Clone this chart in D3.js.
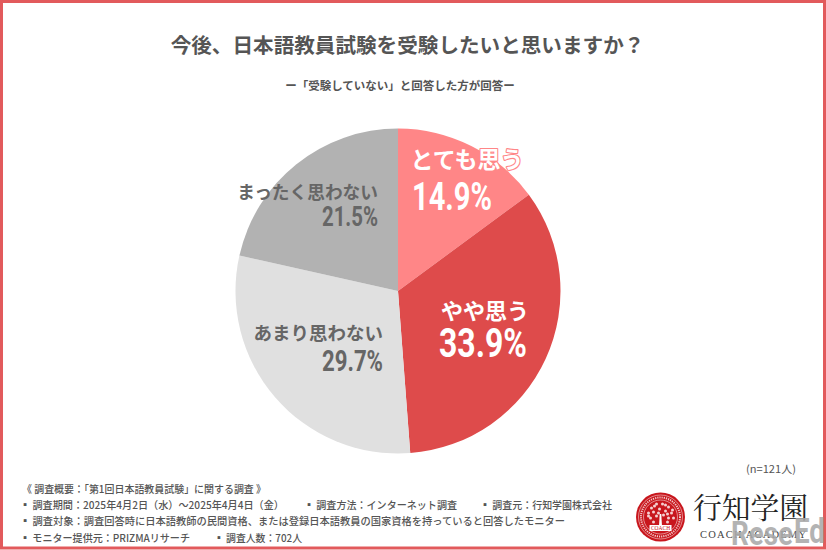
<!DOCTYPE html>
<html><head><meta charset="utf-8">
<script src="https://cdn.jsdelivr.net/npm/d3@7"></script>
<style>html,body{margin:0;padding:0;background:#fff}svg{display:block}text{font-family:"Noto Sans CJK JP",sans-serif}</style>
</head><body><svg id="c" width="826" height="550"></svg>
<script>
const categories=["とても思う","やや思う","あまり思わない","まったく思わない"];
const values=[14.9,33.9,29.7,21.5];
const colors=["#ff8687","#de4b4b","#e0e0e0","#b2b2b2"];
const labelColors=["#fff","#fff","#666","#666"];
const labelX=[467,485,383,378];
const labelY=[168,319,340,199];
const labelSize=[23,22,18.5,17.7];
const anchors=["middle","middle","end","end"];
const pctX=[412,439,322,322];
const pctY=[210,357,371,226];
const pctW=[80,88,61,56];
const pctSize=[38,41,29,28];
const footLines=[
 ["《 調査概要：「第1回日本語教員試験」に関する調査 》",22,493],
 ["▪ 調査期間：2025年4月2日（水）～2025年4月4日（金）",20,509],
 ["▪ 調査方法：インターネット調査",304,509],
 ["▪ 調査元：行知学園株式会社",480,509],
 ["▪ 調査対象：調査回答時に日本語教師の民間資格、または登録日本語教員の国家資格を持っていると回答したモニター",20,525],
 ["▪ モニター提供元：PRIZMAリサーチ",20,542],
 ["▪ 調査人数：702人",214,542]];
const footW=[244,264,153,132,545,170,88];
const treeDots=[[-9,-9],[-4,-13],[2,-13],[8,-10],[-12,-4],[-7,-5],[-1,-8],[5,-6],[11,-4],[-10,1],[-4,-1],[3,-2],[8,1],[13,1],[-7,5],[7,5],[-6,-11],[5,-12],[-2,-4],[7,-3],[-12,-1],[12,-7]];
const svg=d3.select("#c");
svg.append("rect").attr("x",1.5).attr("y",1.5).attr("width",823).attr("height",546.5).attr("fill","#fff").attr("stroke","#e25a5c").attr("stroke-width",3);
svg.append("text").attr("x",407.5).attr("y",53).attr("text-anchor","middle").attr("font-size",20.6).attr("font-weight",700).attr("fill","#555").text("今後、日本語教員試験を受験したいと思いますか？");
svg.append("text").attr("x",400).attr("y",90).attr("text-anchor","middle").attr("font-size",11.5).attr("font-weight",700).attr("fill","#555").text("ー「受験していない」と回答した方が回答ー");
const pie=d3.pie().sort(null).value(d=>d)(values);
const arc=d3.arc().innerRadius(0).outerRadius(162.5);
const g=svg.append("g").attr("transform","translate(398,291)");
g.selectAll("path").data(pie).join("path").attr("d",arc).attr("fill",(d,i)=>colors[i]);
categories.forEach((c,i)=>{
  const cat=svg.append("text").attr("x",labelX[i]).attr("y",labelY[i]).attr("text-anchor",anchors[i]).attr("font-weight",700)
   .attr("font-size",labelSize[i]).attr("fill",labelColors[i]).text(c);
  if(i==0){cat.attr("stroke","#ff8687").attr("stroke-width",2.2).style("paint-order","stroke").attr("stroke-linejoin","round");}
  svg.append("text").attr("x",pctX[i]).attr("y",pctY[i])
   .attr("font-size",pctSize[i]).attr("font-weight",700).style("font-family","Roboto")
   .attr("fill",labelColors[i]).attr("textLength",pctW[i]).attr("lengthAdjust","spacingAndGlyphs").text(values[i].toFixed(1)+"%");
});
svg.append("text").attr("x",746).attr("y",473).attr("font-size",10.5).attr("fill","#555").attr("textLength",50).attr("lengthAdjust","spacingAndGlyphs").text("(n=121人)");
footLines.forEach((f,i)=>svg.append("text").attr("x",f[1]).attr("y",f[2]).attr("font-size",10.5).attr("font-weight",500).attr("fill","#555")
  .attr("textLength",footW[i]).attr("lengthAdjust","spacingAndGlyphs").text(f[0]));
// logo
const logo=svg.append("g").attr("transform","translate(660.5,517)");
logo.append("circle").attr("r",24.5).attr("fill","#c8161d");
logo.append("circle").attr("r",22).attr("fill","none").attr("stroke","#fff").attr("stroke-width",.5);
logo.append("circle").attr("r",19.5).attr("fill","none").attr("stroke","#f3c9c9").attr("stroke-width",2).attr("stroke-dasharray","1.2 1");
logo.append("circle").attr("r",17).attr("fill","none").attr("stroke","#fff").attr("stroke-width",.5);
logo.selectAll("circle.leaf").data(treeDots).join("circle").attr("class","leaf").attr("cx",d=>d[0]).attr("cy",d=>d[1]).attr("r",1.5).attr("fill","#fff").attr("opacity",.8);
logo.append("path").attr("d","M-1.5 9L-.8 -3L.8 -3L1.5 9Z").attr("fill","#fff");
logo.append("rect").attr("x",-11).attr("y",8).attr("width",22).attr("height",6).attr("fill","#fff");
logo.append("text").attr("y",13).attr("text-anchor","middle").attr("font-size",5.5).style("font-family","Liberation Serif").attr("fill","#c8161d").text("COACH");
svg.append("text").attr("x",693).attr("y",519).attr("font-size",29).style("font-family","Noto Serif CJK JP,Noto Sans CJK JP").attr("fill","#222").attr("textLength",115).attr("lengthAdjust","spacingAndGlyphs").text("行知学園");
svg.append("text").attr("x",700).attr("y",538).attr("font-size",10.5).style("font-family","Liberation Serif").attr("fill","#444").attr("textLength",106).text("COACH ACADEMY");
svg.append("text").attr("x",731).attr("y",545).attr("font-size",33).attr("font-weight",700).style("font-family","Roboto").attr("fill","#a9a9a9").attr("opacity",.88).attr("textLength",62).attr("lengthAdjust","spacingAndGlyphs").text("Rese");
svg.append("text").attr("x",794).attr("y",543).attr("font-size",35).attr("font-weight",700).style("font-family","Roboto").attr("fill","#a9a9a9").attr("opacity",.88).attr("textLength",31).attr("lengthAdjust","spacingAndGlyphs").text("Ed");
</script></body></html>
